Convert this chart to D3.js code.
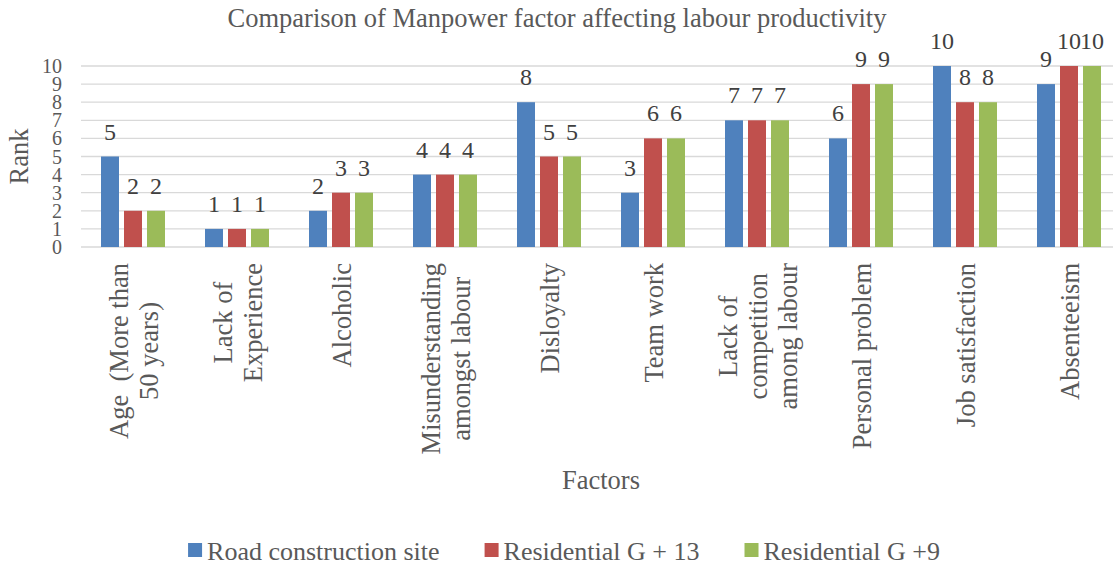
<!DOCTYPE html>
<html>
<head>
<meta charset="utf-8">
<script src="https://cdn.jsdelivr.net/npm/d3@7/dist/d3.min.js"></script>
<style>
  body { margin: 0; background: #fff; }
  svg text { font-family: "Liberation Serif", "Times New Roman", serif; white-space: pre; }
</style>
</head>
<body>
<svg id="chart" width="1113" height="566"></svg>
<script>
// chart data
var factors = [
  ["Age  (More than", "50 years)"],
  ["Lack of", "Experience"],
  ["Alcoholic"],
  ["Misunderstanding", "amongst labour"],
  ["Disloyalty"],
  ["Team work"],
  ["Lack of", "competition", "among labour"],
  ["Personal problem"],
  ["Job satisfaction"],
  ["Absenteeism"]
];
var seriesNames = ["Road construction site", "Residential G + 13", "Residential G +9"];
var roadSite = [5, 1, 2, 4, 8, 3, 7, 6, 10, 9];
var residentialG13 = [2, 1, 3, 4, 5, 6, 7, 9, 8, 10];
var residentialG9 = [2, 1, 3, 4, 5, 6, 7, 9, 8, 10];
var yTicks = [0, 1, 2, 3, 4, 5, 6, 7, 8, 9, 10];
var colors = ["#4f81bd", "#c0504d", "#9bbb59"];

var seriesValues = [roadSite, residentialG13, residentialG9];
var catKeys = factors.map(function(f) { return f.join(" "); });

var svg = d3.select("#chart");
svg.append("rect").attr("width", 1113).attr("height", 566).attr("fill", "#fff");

var plotLeft = 81, plotRight = 1121, plotTop = 66, plotBottom = 247;

var x0 = d3.scaleBand()
  .domain(catKeys)
  .range([plotLeft, plotRight])
  .paddingInner(40 / 104)
  .paddingOuter(20 / 104);

var x1 = d3.scaleBand()
  .domain(seriesNames)
  .range([0, x0.bandwidth()])
  .paddingInner(5 / 23);

var y = d3.scaleLinear().domain([0, 10]).range([plotBottom, plotTop]);

// title
svg.append("text")
  .attr("x", 557).attr("y", 27)
  .attr("text-anchor", "middle")
  .attr("font-size", "26.5px")
  .attr("fill", "#595959")
  .text("Comparison of Manpower factor affecting labour productivity");

// gridlines
svg.append("g").selectAll("line")
  .data(yTicks)
  .enter().append("line")
  .attr("x1", plotLeft).attr("x2", plotRight)
  .attr("y1", function(d) { return y(d); })
  .attr("y2", function(d) { return y(d); })
  .attr("stroke", "#d9d9d9")
  .attr("stroke-width", 1.3);

// y axis tick labels
svg.append("g").selectAll("text")
  .data(yTicks)
  .enter().append("text")
  .attr("x", 62)
  .attr("y", function(d) { return y(d); })
  .attr("dy", "0.35em")
  .attr("text-anchor", "end")
  .attr("font-size", "20px")
  .attr("fill", "#595959")
  .text(function(d) { return d; });

// y axis title
svg.append("text")
  .attr("transform", "translate(28," + ((plotTop + plotBottom) / 2) + ")rotate(-90)")
  .attr("text-anchor", "middle")
  .attr("font-size", "26.5px")
  .attr("fill", "#595959")
  .text("Rank");

// bars
var groups = svg.append("g").selectAll("g")
  .data(catKeys)
  .enter().append("g")
  .attr("transform", function(d) { return "translate(" + x0(d) + ",0)"; });

function groupData(d, i) {
  return seriesNames.map(function(s, j) { return {s: s, j: j, v: seriesValues[j][i]}; });
}

groups.selectAll("rect")
  .data(groupData)
  .enter().append("rect")
  .attr("x", function(d) { return x1(d.s); })
  .attr("y", function(d) { return y(d.v); })
  .attr("width", x1.bandwidth())
  .attr("height", function(d) { return y(0) - y(d.v); })
  .attr("fill", function(d) { return colors[d.j]; });

groups.selectAll("text.val")
  .data(groupData)
  .enter().append("text")
  .attr("class", "val")
  .attr("x", function(d) { return x1(d.s) + x1.bandwidth() / 2; })
  .attr("y", function(d) { return y(d.v) - 17; })
  .attr("text-anchor", "middle")
  .attr("font-size", "24px")
  .attr("fill", "#404040")
  .text(function(d) { return d.v; });

// category labels (rotated, multi-line)
var lineGap = 30;
var labelTop = 263;
factors.forEach(function(lines, i) {
  var cx = x0(catKeys[i]) + x0.bandwidth() / 2;
  var g = svg.append("g");
  var texts = lines.map(function(line, k) {
    var off = (k - (lines.length - 1) / 2) * lineGap;
    return g.append("text")
      .attr("text-anchor", "middle")
      .attr("font-size", "26.5px")
      .attr("fill", "#595959")
      .attr("dy", "0.36em")
      .datum(off)
      .text(line);
  });
  var maxLen = d3.max(texts, function(t) { return t.node().getComputedTextLength(); });
  texts.forEach(function(t) {
    t.attr("transform", "translate(" + (cx + t.datum()) + "," + (labelTop + maxLen / 2) + ")rotate(-90)");
  });
});

// x axis title
svg.append("text")
  .attr("x", (plotLeft + plotRight) / 2).attr("y", 489)
  .attr("text-anchor", "middle")
  .attr("font-size", "26.5px")
  .attr("fill", "#595959")
  .text("Factors");

// legend
var legend = svg.append("g");
var sq = 14, sqGap = 5, itemGap = 45;
var items = seriesNames.map(function(name, j) {
  var g = legend.append("g");
  g.append("rect").attr("width", sq).attr("height", sq).attr("y", 543).attr("fill", colors[j]);
  var t = g.append("text")
    .attr("x", sq + sqGap).attr("y", 560)
    .attr("font-size", "26px")
    .attr("fill", "#595959")
    .text(name);
  return {g: g, w: sq + sqGap + t.node().getComputedTextLength()};
});
var total = d3.sum(items, function(d) { return d.w; }) + itemGap * (items.length - 1);
var lx = 564 - total / 2;
items.forEach(function(it) {
  it.g.attr("transform", "translate(" + lx + ",0)");
  lx += it.w + itemGap;
});
</script>
</body>
</html>
